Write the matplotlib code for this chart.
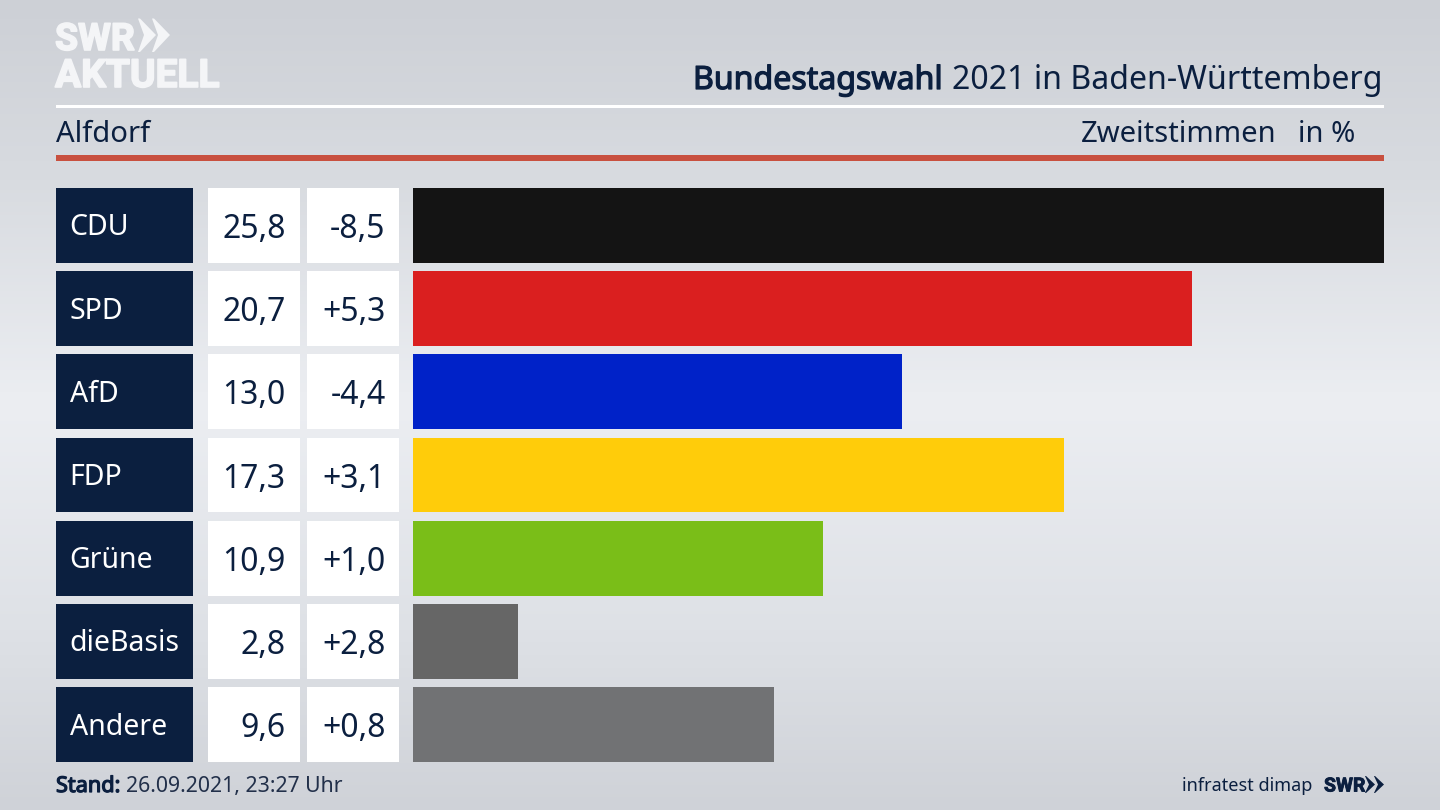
import numpy as np
import matplotlib
matplotlib.use("Agg")
import matplotlib.pyplot as plt
import matplotlib.patheffects as pe
from matplotlib.colors import LinearSegmentedColormap
from matplotlib.patches import Polygon, Rectangle

parties = ["CDU", "SPD", "AfD", "FDP", "Grüne", "dieBasis", "Andere"]
shares = [25.8, 20.7, 13.0, 17.3, 10.9, 2.8, 9.6]
changes = [-8.5, 5.3, -4.4, 3.1, 1.0, 2.8, 0.8]
colors = ["#141414", "#da1f1f", "#0022c8", "#ffcc0a", "#7abe18", "#666666", "#717274"]

NAVY = "#0b1f3f"
LOGO = "#f4f5f7"
plt.rcParams["font.family"] = ["Noto Sans", "DejaVu Sans"]
W, H = 1440, 810
fig = plt.figure(figsize=(14.4, 8.1), dpi=100)

def pixel_axes(x0, y0, x1, y1):
    return fig.add_axes([x0 / W, 1 - y1 / H, (x1 - x0) / W, (y1 - y0) / H])

def heavy(color, width=0.9):
    return [pe.withStroke(linewidth=width, foreground=color)]

bg = fig.add_axes([0, 0, 1, 1])
bg.set_xlim(0, W)
bg.set_ylim(H, 0)
bg.axis("off")
cmap = LinearSegmentedColormap.from_list("bg", [(0, "#cdd0d6"), (0.22, "#d8dbe0"), (0.5, "#eceef2"),
                                                (0.78, "#dee1e6"), (1, "#cfd2d8")])
bg.imshow(np.linspace(0, 1, 256)[:, None], cmap=cmap, extent=(0, W, H, 0), aspect="auto", zorder=0)

# header
bg.add_patch(Rectangle((56, 104.5), 1328, 3, color="white", lw=0))
bg.add_patch(Rectangle((56, 155), 1328, 5.5, color="#c8503f", lw=0))
bg.text(56, 142, "Alfdorf", fontsize=21, color=NAVY, va="baseline", ha="left")
bg.text(1277, 142, "Zweitstimmen", fontsize=21, color=NAVY, va="baseline", ha="right")
bg.text(1355, 142, "in %", fontsize=21, color=NAVY, va="baseline", ha="right")
bg.text(693, 89, "Bundestagswahl", fontsize=23.1, color=NAVY, va="baseline", ha="left",
        path_effects=heavy(NAVY))
bg.text(1383, 89, "2021 in Baden-Württemberg", fontsize=23.1, color=NAVY, va="baseline", ha="right")

# logo
bg.text(55, 50, "SWR", fontsize=27, fontweight="bold", color=LOGO, va="baseline", ha="left",
        family="Roboto", path_effects=heavy(LOGO, 1.2))
bg.text(55, 87, "AKTUELL", fontsize=28, fontweight="bold", color=LOGO, va="baseline", ha="left",
        family="Roboto", path_effects=heavy(LOGO, 1.2))
for dx in (138, 152):
    bg.add_patch(Polygon([(dx, 18.5), (dx + 2, 18.5), (dx + 18, 35), (dx + 2, 52), (dx, 52), (dx + 6, 35)],
                         color=LOGO, lw=0))

# footer
bg.text(56, 792, "Stand:", fontsize=15.6, color=NAVY, va="baseline", ha="left", path_effects=heavy(NAVY))
bg.text(126, 792, "26.09.2021, 23:27 Uhr", fontsize=15.3, color="#22304a", va="baseline", ha="left")
bg.text(1312, 791, "infratest dimap", fontsize=13, color=NAVY, va="baseline", ha="right")
bg.text(1324, 791.5, "SWR", fontsize=14, fontweight="bold", color=NAVY, va="baseline", ha="left",
        family="Roboto", path_effects=heavy(NAVY, 0.6))
for dx in (1365, 1374):
    bg.add_patch(Polygon([(dx, 776), (dx + 1, 776), (dx + 10, 784.5), (dx + 1, 793), (dx, 793), (dx + 4, 784.5)],
                         color=NAVY, lw=0))

# table + bars share the same category positions
pos = np.arange(len(parties))
YLIM = (len(parties) - 0.55, -0.45)
BAR_H = 0.9

tab = pixel_axes(0, 188, 413, 762)
tab.set_xlim(0, 413)
tab.set_ylim(*YLIM)
tab.axis("off")
tab.barh(pos, 137, left=56, height=BAR_H, color=NAVY)
tab.barh(pos, 92, left=208, height=BAR_H, color="white")
tab.barh(pos, 92, left=307, height=BAR_H, color="white")
for y, p, s, c in zip(pos, parties, shares, changes):
    tab.text(69.5, y - 0.012, p, fontsize=20.5, color="white", va="center_baseline", ha="left")
    tab.text(285.5, y, f"{s:.1f}".replace(".", ","), fontsize=23, color=NAVY, va="center_baseline", ha="right")
    tab.text(385.5, y, f"{c:+.1f}".replace(".", ","), fontsize=23, color=NAVY, va="center_baseline", ha="right")

ax = pixel_axes(413, 188, 1384, 762)
ax.patch.set_alpha(0)
ax.barh(pos, shares, height=BAR_H, color=colors)
ax.set_xlim(0, max(shares))
ax.set_ylim(*YLIM)
ax.axis("off")

fig.savefig("out.png", dpi=100)
